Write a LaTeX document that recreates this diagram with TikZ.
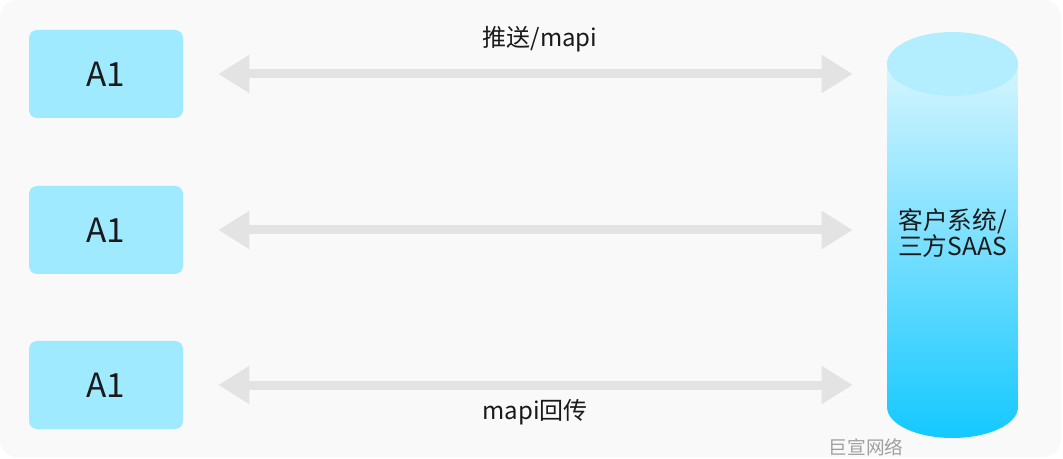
\documentclass[tikz,border=0pt]{standalone}
\usepackage{fontspec}
\setmainfont{Noto Sans CJK SC}
\usetikzlibrary{arrows.meta,positioning}
\definecolor{bgpanel}{RGB}{249,249,249}
\definecolor{boxblue}{RGB}{160,234,255}
\definecolor{arrowgray}{RGB}{227,227,227}
\definecolor{cyltop}{RGB}{178,238,255}
\definecolor{cylmid}{RGB}{143,228,255}
\definecolor{cylbot}{RGB}{20,200,255}
\definecolor{cylhigh}{RGB}{214,245,255}
\definecolor{inkdark}{RGB}{26,26,26}
\definecolor{markgray}{RGB}{160,160,160}
\tikzset{
  clientbox/.style={fill=boxblue, rounded corners=6pt, minimum width=115.5pt, minimum height=66pt, inner sep=0pt, text=inkdark, font=\fontsize{25}{27}\selectfont},
  biarrow/.style={arrowgray, line width=6.75pt, {Triangle[length=23.25pt,width=27pt]}-{Triangle[length=23.25pt,width=27pt]}, shorten <=26.25pt, shorten >=25.5pt},
  lbl/.style={text=inkdark, inner sep=0pt, font=\fontsize{18}{20}\selectfont}
}
\begin{document}
\begin{tikzpicture}[x=0.75pt,y=0.75pt,yscale=-1,xscale=1]
\useasboundingbox (0,0) rectangle (1063,459);
\fill[white] (0,0) rectangle (1063,459);
% panel
\fill[bgpanel, rounded corners=13pt] (0,0) rectangle (1061,457);

% clients
\node[clientbox] (a1) at (106,74) {A1};
\node[clientbox] (a2) at (106,230) {A1};
\node[clientbox] (a3) at (106,385) {A1};

% cylinder
\shade[top color=cylhigh, middle color=cylmid, bottom color=cylbot] (887,64) -- (887,407) arc[start angle=180, end angle=0, x radius=65.5, y radius=31] -- (1018,64) -- cycle;
\fill[cyltop] (952.5,64) ellipse [x radius=65.5, y radius=32];
\node[inner sep=0pt, minimum width=98.25pt, minimum height=280pt, align=center, text=inkdark, font=\fontsize{18.5}{20}\selectfont] (saas) at (952.5,233) {客户系统/\\三方SAAS};

% links
\draw[biarrow] (a1.east) -- (a1.east -| saas.west);
\draw[biarrow] (a2.east) -- (a2.east -| saas.west);
\draw[biarrow] (a3.east) -- (a3.east -| saas.west);

\node[lbl] (push) at (540,39) {推送/mapi};
\node[lbl] (back) at (535,412) {mapi回传};
\node[text=markgray, inner sep=0pt, font=\fontsize{14}{16}\selectfont] (mark) at (866,447) {巨宣网络};
\end{tikzpicture}
\end{document}
